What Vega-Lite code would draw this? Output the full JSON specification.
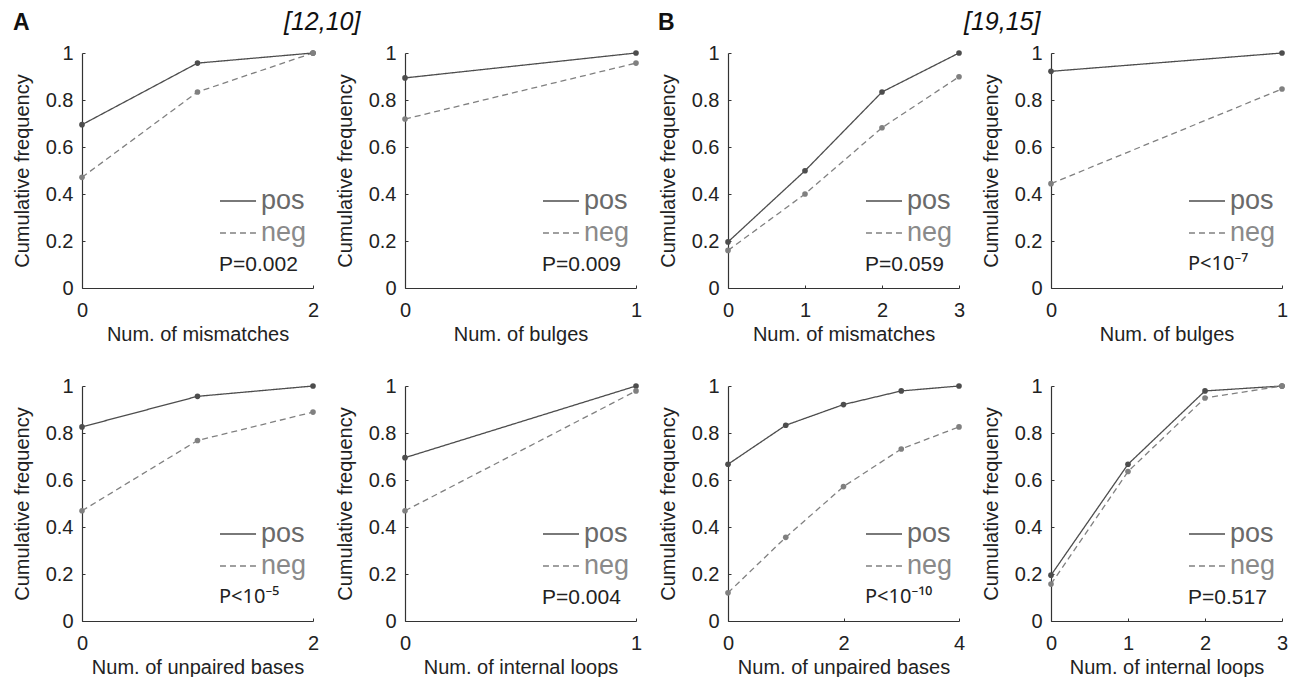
{
  "$schema": "https://vega.github.io/schema/vega-lite/v6.json",
  "background": "white",
  "padding": {"left": 12, "top": 10, "right": 0, "bottom": 0},
  "autosize": {"type": "pad"},
  "datasets": {
    "d": [
      {"p": "A1", "x": 0, "y": 0.695, "s": "pos"}, {"p": "A1", "x": 1, "y": 0.957, "s": "pos"}, {"p": "A1", "x": 2, "y": 1.0, "s": "pos"},
      {"p": "A1", "x": 0, "y": 0.471, "s": "neg"}, {"p": "A1", "x": 1, "y": 0.834, "s": "neg"}, {"p": "A1", "x": 2, "y": 1.0, "s": "neg"},
      {"p": "A2", "x": 0, "y": 0.894, "s": "pos"}, {"p": "A2", "x": 1, "y": 1.0, "s": "pos"},
      {"p": "A2", "x": 0, "y": 0.719, "s": "neg"}, {"p": "A2", "x": 1, "y": 0.957, "s": "neg"},
      {"p": "B1", "x": 0, "y": 0.196, "s": "pos"}, {"p": "B1", "x": 1, "y": 0.499, "s": "pos"}, {"p": "B1", "x": 2, "y": 0.834, "s": "pos"}, {"p": "B1", "x": 3, "y": 1.0, "s": "pos"},
      {"p": "B1", "x": 0, "y": 0.16, "s": "neg"}, {"p": "B1", "x": 1, "y": 0.4, "s": "neg"}, {"p": "B1", "x": 2, "y": 0.682, "s": "neg"}, {"p": "B1", "x": 3, "y": 0.899, "s": "neg"},
      {"p": "B2", "x": 0, "y": 0.922, "s": "pos"}, {"p": "B2", "x": 1, "y": 1.0, "s": "pos"},
      {"p": "B2", "x": 0, "y": 0.444, "s": "neg"}, {"p": "B2", "x": 1, "y": 0.847, "s": "neg"},
      {"p": "A3", "x": 0, "y": 0.826, "s": "pos"}, {"p": "A3", "x": 1, "y": 0.956, "s": "pos"}, {"p": "A3", "x": 2, "y": 1.0, "s": "pos"},
      {"p": "A3", "x": 0, "y": 0.469, "s": "neg"}, {"p": "A3", "x": 1, "y": 0.768, "s": "neg"}, {"p": "A3", "x": 2, "y": 0.889, "s": "neg"},
      {"p": "A4", "x": 0, "y": 0.695, "s": "pos"}, {"p": "A4", "x": 1, "y": 1.0, "s": "pos"},
      {"p": "A4", "x": 0, "y": 0.469, "s": "neg"}, {"p": "A4", "x": 1, "y": 0.979, "s": "neg"},
      {"p": "B3", "x": 0, "y": 0.667, "s": "pos"}, {"p": "B3", "x": 1, "y": 0.833, "s": "pos"}, {"p": "B3", "x": 2, "y": 0.921, "s": "pos"}, {"p": "B3", "x": 3, "y": 0.979, "s": "pos"}, {"p": "B3", "x": 4, "y": 1.0, "s": "pos"},
      {"p": "B3", "x": 0, "y": 0.12, "s": "neg"}, {"p": "B3", "x": 1, "y": 0.356, "s": "neg"}, {"p": "B3", "x": 2, "y": 0.572, "s": "neg"}, {"p": "B3", "x": 3, "y": 0.732, "s": "neg"}, {"p": "B3", "x": 4, "y": 0.826, "s": "neg"},
      {"p": "B4", "x": 0, "y": 0.195, "s": "pos"}, {"p": "B4", "x": 1, "y": 0.667, "s": "pos"}, {"p": "B4", "x": 2, "y": 0.979, "s": "pos"}, {"p": "B4", "x": 3, "y": 1.0, "s": "pos"},
      {"p": "B4", "x": 0, "y": 0.157, "s": "neg"}, {"p": "B4", "x": 1, "y": 0.636, "s": "neg"}, {"p": "B4", "x": 2, "y": 0.949, "s": "neg"}, {"p": "B4", "x": 3, "y": 1.0, "s": "neg"}
    ]
  },
  "config": {
    "font": "Liberation Sans",
    "view": {"stroke": null},
    "axis": {
      "grid": false, "domainColor": "#333", "tickColor": "#333", "labelColor": "#222", "titleColor": "#222",
      "labelFont": "Liberation Sans", "titleFont": "Liberation Sans", "labelFontSize": 20, "titleFontSize": 20,
      "titleFontWeight": "normal", "tickSize": -3, "labelPadding": 12, "titlePadding": 3, "domainWidth": 1.2,
      "tickWidth": 1, "labelFlush": false, "labelOverlap": false
    },
    "axisX": {"labelPadding": 15, "titlePadding": 4},
    "axisY": {"titlePadding": 13},
    "legend": {
      "orient": "none", "legendX": 137, "legendY": 129, "symbolType": "stroke", "symbolSize": 1300,
      "symbolStrokeWidth": 1.3, "labelFontSize": 27, "labelFont": "Liberation Sans", "labelOffset": 4,
      "titleOrient": "bottom", "titleAnchor": "start", "titleFontSize": 21, "titleFontWeight": "normal",
      "titleFont": "Liberation Sans", "titleColor": "#222", "titlePadding": 8, "rowPadding": 0, "labelColor": "#777"
    },
    "title": {"font": "Liberation Sans", "color": "#111", "anchor": "start", "frame": "group", "offset": 8, "baseline": "alphabetic", "fontWeight": "normal"}
  },
  "bounds": "flush",
  "columns": 4,
  "spacing": {"row": 98, "column": 92},
  "resolve": {"scale": {"x": "independent", "y": "independent", "color": "independent", "strokeDash": "independent"}, "legend": {"color": "independent", "strokeDash": "independent"}, "axis": {"x": "independent", "y": "independent"}},
  "concat": [
    {
      "width": 231, "height": 235,
      "title": {"text": "A", "fontWeight": "bold", "fontSize": 23, "dx": -69},
      "data": {"name": "d"},
      "transform": [{"filter": "datum.p == 'A1'"}],
      "mark": {"type": "line", "strokeWidth": 1.3, "point": {"filled": true, "size": 32}},
      "encoding": {
        "x": {"field": "x", "type": "quantitative", "scale": {"domain": [0, 2], "nice": false}, "axis": {"title": "Num. of mismatches", "values": [0, 1, 2], "format": "d"}},
        "y": {"field": "y", "type": "quantitative", "scale": {"domain": [0, 1]}, "axis": {"title": "Cumulative frequency", "values": [0, 0.2, 0.4, 0.6, 0.8, 1], "format": "~g"}},
        "color": {"field": "s", "type": "nominal", "scale": {"domain": ["pos", "neg"], "range": ["#4d4d4d", "#808080"]}, "legend": {"title": "P=0.002", "encode": {"labels": {"update": {"fill": {"signal": "datum.label === 'pos' ? '#6a6a6a' : '#8a8a8a'"}}}}}},
        "strokeDash": {"field": "s", "type": "nominal", "scale": {"domain": ["pos", "neg"], "range": [[1, 0], [6, 4]]}, "legend": {"title": "P=0.002", "encode": {"labels": {"update": {"fill": {"signal": "datum.label === 'pos' ? '#6a6a6a' : '#8a8a8a'"}}}}}}
      }
    },
    {
      "width": 231, "height": 235,
      "title": {"text": "[12,10]", "fontStyle": "italic", "fontSize": 25, "dx": -121},
      "data": {"name": "d"},
      "transform": [{"filter": "datum.p == 'A2'"}],
      "mark": {"type": "line", "strokeWidth": 1.3, "point": {"filled": true, "size": 32}},
      "encoding": {
        "x": {"field": "x", "type": "quantitative", "scale": {"domain": [0, 1], "nice": false}, "axis": {"title": "Num. of bulges", "values": [0, 1], "format": "d"}},
        "y": {"field": "y", "type": "quantitative", "scale": {"domain": [0, 1]}, "axis": {"title": "Cumulative frequency", "values": [0, 0.2, 0.4, 0.6, 0.8, 1], "format": "~g"}},
        "color": {"field": "s", "type": "nominal", "scale": {"domain": ["pos", "neg"], "range": ["#4d4d4d", "#808080"]}, "legend": {"title": "P=0.009", "encode": {"labels": {"update": {"fill": {"signal": "datum.label === 'pos' ? '#6a6a6a' : '#8a8a8a'"}}}}}},
        "strokeDash": {"field": "s", "type": "nominal", "scale": {"domain": ["pos", "neg"], "range": [[1, 0], [6, 4]]}, "legend": {"title": "P=0.009", "encode": {"labels": {"update": {"fill": {"signal": "datum.label === 'pos' ? '#6a6a6a' : '#8a8a8a'"}}}}}}
      }
    },
    {
      "width": 231, "height": 235,
      "title": {"text": "B", "fontWeight": "bold", "fontSize": 23, "dx": -70},
      "data": {"name": "d"},
      "transform": [{"filter": "datum.p == 'B1'"}],
      "mark": {"type": "line", "strokeWidth": 1.3, "point": {"filled": true, "size": 32}},
      "encoding": {
        "x": {"field": "x", "type": "quantitative", "scale": {"domain": [0, 3], "nice": false}, "axis": {"title": "Num. of mismatches", "values": [0, 1, 2, 3], "format": "d"}},
        "y": {"field": "y", "type": "quantitative", "scale": {"domain": [0, 1]}, "axis": {"title": "Cumulative frequency", "values": [0, 0.2, 0.4, 0.6, 0.8, 1], "format": "~g"}},
        "color": {"field": "s", "type": "nominal", "scale": {"domain": ["pos", "neg"], "range": ["#4d4d4d", "#808080"]}, "legend": {"title": "P=0.059", "encode": {"labels": {"update": {"fill": {"signal": "datum.label === 'pos' ? '#6a6a6a' : '#8a8a8a'"}}}}}},
        "strokeDash": {"field": "s", "type": "nominal", "scale": {"domain": ["pos", "neg"], "range": [[1, 0], [6, 4]]}, "legend": {"title": "P=0.059", "encode": {"labels": {"update": {"fill": {"signal": "datum.label === 'pos' ? '#6a6a6a' : '#8a8a8a'"}}}}}}
      }
    },
    {
      "width": 231, "height": 235,
      "title": {"text": "[19,15]", "fontStyle": "italic", "fontSize": 25, "dx": -87},
      "data": {"name": "d"},
      "transform": [{"filter": "datum.p == 'B2'"}],
      "mark": {"type": "line", "strokeWidth": 1.3, "point": {"filled": true, "size": 32}},
      "encoding": {
        "x": {"field": "x", "type": "quantitative", "scale": {"domain": [0, 1], "nice": false}, "axis": {"title": "Num. of bulges", "values": [0, 1], "format": "d"}},
        "y": {"field": "y", "type": "quantitative", "scale": {"domain": [0, 1]}, "axis": {"title": "Cumulative frequency", "values": [0, 0.2, 0.4, 0.6, 0.8, 1], "format": "~g"}},
        "color": {"field": "s", "type": "nominal", "scale": {"domain": ["pos", "neg"], "range": ["#4d4d4d", "#808080"]}, "legend": {"title": "P<10⁻⁷", "titleFont": "Noto Sans", "titleFontSize": 20, "encode": {"labels": {"update": {"fill": {"signal": "datum.label === 'pos' ? '#6a6a6a' : '#8a8a8a'"}}}}}},
        "strokeDash": {"field": "s", "type": "nominal", "scale": {"domain": ["pos", "neg"], "range": [[1, 0], [6, 4]]}, "legend": {"title": "P<10⁻⁷", "titleFont": "Noto Sans", "titleFontSize": 20, "encode": {"labels": {"update": {"fill": {"signal": "datum.label === 'pos' ? '#6a6a6a' : '#8a8a8a'"}}}}}}
      }
    },
    {
      "width": 231, "height": 235,
      "data": {"name": "d"},
      "transform": [{"filter": "datum.p == 'A3'"}],
      "mark": {"type": "line", "strokeWidth": 1.3, "point": {"filled": true, "size": 32}},
      "encoding": {
        "x": {"field": "x", "type": "quantitative", "scale": {"domain": [0, 2], "nice": false}, "axis": {"title": "Num. of unpaired bases", "values": [0, 1, 2], "format": "d"}},
        "y": {"field": "y", "type": "quantitative", "scale": {"domain": [0, 1]}, "axis": {"title": "Cumulative frequency", "values": [0, 0.2, 0.4, 0.6, 0.8, 1], "format": "~g"}},
        "color": {"field": "s", "type": "nominal", "scale": {"domain": ["pos", "neg"], "range": ["#4d4d4d", "#808080"]}, "legend": {"title": "P<10⁻⁵", "titleFont": "Noto Sans", "titleFontSize": 20, "encode": {"labels": {"update": {"fill": {"signal": "datum.label === 'pos' ? '#6a6a6a' : '#8a8a8a'"}}}}}},
        "strokeDash": {"field": "s", "type": "nominal", "scale": {"domain": ["pos", "neg"], "range": [[1, 0], [6, 4]]}, "legend": {"title": "P<10⁻⁵", "titleFont": "Noto Sans", "titleFontSize": 20, "encode": {"labels": {"update": {"fill": {"signal": "datum.label === 'pos' ? '#6a6a6a' : '#8a8a8a'"}}}}}}
      }
    },
    {
      "width": 231, "height": 235,
      "data": {"name": "d"},
      "transform": [{"filter": "datum.p == 'A4'"}],
      "mark": {"type": "line", "strokeWidth": 1.3, "point": {"filled": true, "size": 32}},
      "encoding": {
        "x": {"field": "x", "type": "quantitative", "scale": {"domain": [0, 1], "nice": false}, "axis": {"title": "Num. of internal loops", "values": [0, 1], "format": "d"}},
        "y": {"field": "y", "type": "quantitative", "scale": {"domain": [0, 1]}, "axis": {"title": "Cumulative frequency", "values": [0, 0.2, 0.4, 0.6, 0.8, 1], "format": "~g"}},
        "color": {"field": "s", "type": "nominal", "scale": {"domain": ["pos", "neg"], "range": ["#4d4d4d", "#808080"]}, "legend": {"title": "P=0.004", "encode": {"labels": {"update": {"fill": {"signal": "datum.label === 'pos' ? '#6a6a6a' : '#8a8a8a'"}}}}}},
        "strokeDash": {"field": "s", "type": "nominal", "scale": {"domain": ["pos", "neg"], "range": [[1, 0], [6, 4]]}, "legend": {"title": "P=0.004", "encode": {"labels": {"update": {"fill": {"signal": "datum.label === 'pos' ? '#6a6a6a' : '#8a8a8a'"}}}}}}
      }
    },
    {
      "width": 231, "height": 235,
      "data": {"name": "d"},
      "transform": [{"filter": "datum.p == 'B3'"}],
      "mark": {"type": "line", "strokeWidth": 1.3, "point": {"filled": true, "size": 32}},
      "encoding": {
        "x": {"field": "x", "type": "quantitative", "scale": {"domain": [0, 4], "nice": false}, "axis": {"title": "Num. of unpaired bases", "values": [0, 2, 4], "format": "d"}},
        "y": {"field": "y", "type": "quantitative", "scale": {"domain": [0, 1]}, "axis": {"title": "Cumulative frequency", "values": [0, 0.2, 0.4, 0.6, 0.8, 1], "format": "~g"}},
        "color": {"field": "s", "type": "nominal", "scale": {"domain": ["pos", "neg"], "range": ["#4d4d4d", "#808080"]}, "legend": {"title": "P<10⁻¹⁰", "titleFont": "Noto Sans", "titleFontSize": 20, "encode": {"labels": {"update": {"fill": {"signal": "datum.label === 'pos' ? '#6a6a6a' : '#8a8a8a'"}}}}}},
        "strokeDash": {"field": "s", "type": "nominal", "scale": {"domain": ["pos", "neg"], "range": [[1, 0], [6, 4]]}, "legend": {"title": "P<10⁻¹⁰", "titleFont": "Noto Sans", "titleFontSize": 20, "encode": {"labels": {"update": {"fill": {"signal": "datum.label === 'pos' ? '#6a6a6a' : '#8a8a8a'"}}}}}}
      }
    },
    {
      "width": 231, "height": 235,
      "data": {"name": "d"},
      "transform": [{"filter": "datum.p == 'B4'"}],
      "mark": {"type": "line", "strokeWidth": 1.3, "point": {"filled": true, "size": 32}},
      "encoding": {
        "x": {"field": "x", "type": "quantitative", "scale": {"domain": [0, 3], "nice": false}, "axis": {"title": "Num. of internal loops", "values": [0, 1, 2, 3], "format": "d"}},
        "y": {"field": "y", "type": "quantitative", "scale": {"domain": [0, 1]}, "axis": {"title": "Cumulative frequency", "values": [0, 0.2, 0.4, 0.6, 0.8, 1], "format": "~g"}},
        "color": {"field": "s", "type": "nominal", "scale": {"domain": ["pos", "neg"], "range": ["#4d4d4d", "#808080"]}, "legend": {"title": "P=0.517", "encode": {"labels": {"update": {"fill": {"signal": "datum.label === 'pos' ? '#6a6a6a' : '#8a8a8a'"}}}}}},
        "strokeDash": {"field": "s", "type": "nominal", "scale": {"domain": ["pos", "neg"], "range": [[1, 0], [6, 4]]}, "legend": {"title": "P=0.517", "encode": {"labels": {"update": {"fill": {"signal": "datum.label === 'pos' ? '#6a6a6a' : '#8a8a8a'"}}}}}}
      }
    }
  ]
}
